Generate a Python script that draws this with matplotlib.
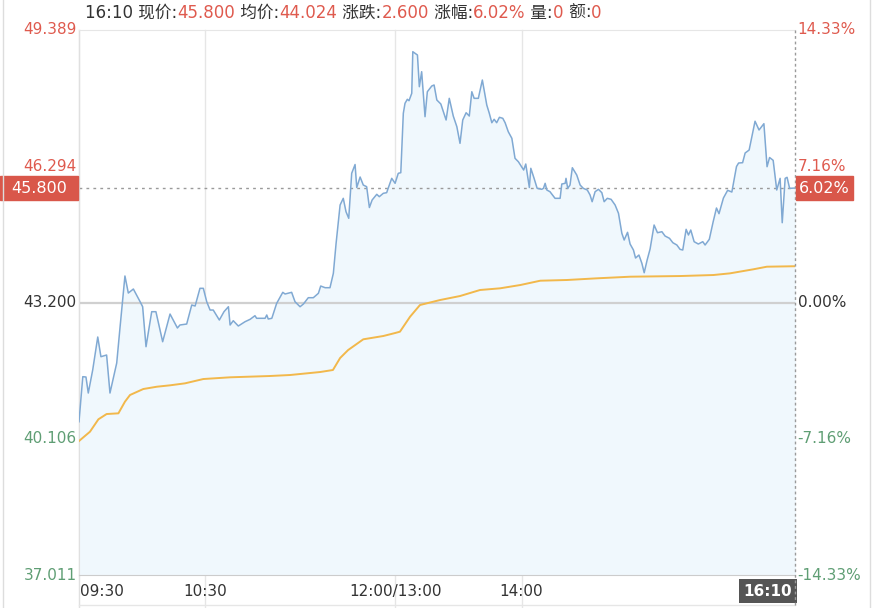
import matplotlib
matplotlib.use('Agg')
import matplotlib.pyplot as plt
from matplotlib.patches import Rectangle

# fonts: latin first, CJK fallback for the header
plt.rcParams['font.family'] = ['DejaVu Sans', 'Noto Sans CJK SC']

# minutes since 09:30 (12:00 and 13:00 share minute 150)
price_min = [0, 1.8, 3.3, 4.4, 6.5, 8.9, 10.4, 13.1, 14.7, 17.9, 19.5, 21.8, 23.4, 25.8,
             29.0, 30.2, 31.8, 34.5, 36.5, 39.7, 43.2, 46.7, 47.9, 51.1, 53.5, 55.1, 57.4,
             59.0, 60.6, 62.2, 63.7, 66.6, 68.8, 70.9, 71.7, 73.2, 75.6, 78.8, 81.2, 83.5,
             84.3, 88.3, 89.1, 89.8, 91.5, 93.8, 96.7, 97.8, 100.9, 102.5, 104.9, 106.5,
             108.8, 111.2, 113.6, 114.7, 116.8, 119.1, 120.7, 122.0, 123.9, 125.4, 126.7,
             128.0, 129.4, 131.0, 131.8, 133.4, 134.9, 136.5, 137.8, 139.1, 141.3, 142.5,
             144.4, 146.0, 146.8, 148.4, 150.0, 151.5, 152.7, 153.9, 154.7, 155.8, 156.6,
             157.9, 158.4, 160.6, 161.5, 162.6, 164.2, 165.3, 167.4, 168.5, 169.8, 171.7,
             174.2, 175.7, 177.6, 179.3, 180.8, 182.1, 183.7, 185.2, 186.4, 187.5, 189.5,
             191.4, 193.5, 194.7, 195.9, 197.0, 198.2, 199.5, 201.1, 202.2, 203.7, 205.4,
             206.9, 208.5, 211.0, 212.0, 213.7, 214.4, 215.9, 217.4, 219.6, 220.4, 221.2,
             222.0, 223.5, 225.9, 228.3, 229.1, 230.7, 231.1, 231.9, 233.0, 234.1, 236.2,
             237.8, 239.3, 241.2, 242.5, 243.5, 244.9, 246.5, 248.1, 249.2, 250.7, 252.5,
             254.4, 256.0, 257.6, 258.7, 260.3, 261.5, 263.1, 264.1, 265.7, 267.1, 268.2,
             269.6, 271.0, 272.9, 274.5, 276.6, 278.1, 280.2, 281.8, 283.7, 285.2, 286.5,
             288.1, 289.2, 290.3, 291.9, 293.9, 296.0, 297.1, 299.1, 300.9, 302.5, 303.7,
             305.8, 307.8, 309.8, 312.0, 313.0, 314.9, 316.1, 318.0, 320.8, 322.7, 325.0,
             326.5, 327.7, 329.4, 331.1, 332.7, 333.7, 335.1, 336.0, 337.2, 340]
price = [40.492, 41.515, 41.508, 41.144, 41.667, 42.416, 41.969, 42.007, 41.144, 41.826,
         42.650, 43.802, 43.415, 43.506, 43.218, 43.104, 42.196, 42.991, 42.991, 42.309,
         42.938, 42.621, 42.689, 42.711, 43.143, 43.120, 43.522, 43.522, 43.218, 43.029,
         43.029, 42.802, 42.991, 43.104, 42.689, 42.786, 42.666, 42.764, 42.818, 42.900,
         42.841, 42.841, 42.916, 42.825, 42.841, 43.181, 43.431, 43.393, 43.431, 43.218,
         43.104, 43.166, 43.309, 43.309, 43.409, 43.574, 43.536, 43.536, 43.863, 44.544,
         45.414, 45.566, 45.262, 45.112, 46.134, 46.334, 45.812, 46.050, 45.868, 45.830,
         45.357, 45.528, 45.657, 45.603, 45.680, 45.694, 45.807, 46.020, 45.907, 46.134,
         46.148, 47.497, 47.724, 47.815, 47.783, 47.951, 48.896, 48.821, 48.101, 48.442,
         47.420, 47.987, 48.117, 48.140, 47.799, 47.708, 47.345, 47.837, 47.435, 47.193,
         46.815, 47.345, 47.510, 47.435, 47.987, 47.837, 47.837, 48.253, 47.685, 47.497,
         47.283, 47.361, 47.283, 47.406, 47.383, 47.283, 47.079, 46.929, 46.475, 46.397,
         46.209, 46.345, 45.812, 46.248, 46.027, 45.793, 45.771, 45.793, 45.907, 45.755,
         45.716, 45.566, 45.566, 45.891, 45.907, 46.020, 45.793, 45.868, 46.261, 46.095,
         45.868, 45.793, 45.755, 45.643, 45.489, 45.716, 45.771, 45.694, 45.489, 45.566,
         45.543, 45.414, 45.226, 44.771, 44.619, 44.794, 44.529, 44.392, 44.210, 44.278,
         44.090, 43.876, 44.165, 44.415, 44.960, 44.785, 44.808, 44.710, 44.658, 44.558,
         44.506, 44.408, 44.392, 44.862, 44.733, 44.846, 44.581, 44.528, 44.581, 44.506,
         44.635, 45.028, 45.346, 45.217, 45.573, 45.748, 45.709, 46.288, 46.368, 46.375,
         46.595, 46.663, 47.317, 47.118, 47.261, 46.284, 46.493, 46.429, 45.755, 46.020,
         45.012, 46.020, 46.043, 45.793, 45.800]

avg_min = [0, 2.8, 5.2, 9.2, 13.1, 18.7, 21.8, 24.2, 30.5, 36.9, 43.2, 50.3, 59.0, 71.7,
           90.3, 100.1, 114.4, 120.5, 123.9, 127.7, 134.9, 144.4, 150.0, 152.3, 157.1,
           161.8, 171.3, 180.8, 190.3, 199.8, 209.4, 218.9, 231.5, 245.7, 261.6, 285.2,
           301.0, 308.9, 320.0, 326.4, 340]
avg = [40.054, 40.168, 40.265, 40.547, 40.667, 40.683, 40.947, 41.099, 41.235, 41.287,
       41.319, 41.364, 41.462, 41.501, 41.530, 41.553, 41.621, 41.667, 41.939, 42.120,
       42.364, 42.439, 42.507, 42.537, 42.877, 43.143, 43.256, 43.347, 43.484, 43.522,
       43.597, 43.695, 43.711, 43.749, 43.786, 43.801, 43.824, 43.862, 43.954, 44.013,
       44.024]

pre_close = 43.200
last = 45.800
y_ticks = [49.389, 46.294, 43.200, 40.106, 37.011]
pct_labels = ['14.33%', '7.16%', '0.00%', '-7.16%', '-14.33%']
x_ticks = [60, 150, 210]
x_labels = ['10:30', '12:00/13:00', '14:00']

RED = '#df5a4e'
GREEN = '#5f9e74'
DARK = '#333333'
tick_colors = [RED, RED, DARK, GREEN, GREEN]

W, H = 879, 608
fig = plt.figure(figsize=(W / 100, H / 100), dpi=100)
ax = fig.add_axes([79 / W, 1 - 575 / H, (795.5 - 79) / W, 545 / H])
ax.set_xlim(0, 340)
ax.set_ylim(37.011, 49.389)
ax.set_xticks([])
ax.set_yticks([])

ax.spines['right'].set_visible(False)
ax.spines['top'].set_color('#e6e6e6')
ax.spines['left'].set_color('#e0e0e0')
ax.spines['bottom'].set_color('#cccccc')

# grid
for t in x_ticks:
    ax.plot([t, t], [-0.06, 1], color='#e6e6e6', lw=1, transform=ax.get_xaxis_transform(),
            clip_on=False, zorder=0)
ax.plot([0, 0], [-0.06, 1], color='#e0e0e0', lw=1, transform=ax.get_xaxis_transform(),
        clip_on=False, zorder=0)
ax.plot([0, 1], [-0.055, -0.055], color='#e6e6e6', lw=1, transform=ax.transAxes,
        clip_on=False)
ax.axhline(pre_close, color='#d0d0d0', lw=1.6, zorder=1)

# series
ax.fill_between(price_min, price, 37.011, color='#f0f8fd', lw=0, zorder=0.5)
ax.plot(price_min, price, color='#80a9d3', lw=1.1, zorder=3)
ax.plot(avg_min, avg, color='#f2b84b', lw=1.4, zorder=3)

# current price line and right edge
ax.axhline(last, color='#9a9a9a', lw=1, ls=(0, (2, 3)), zorder=2)
ax.plot([340, 340], [-0.055, 1], color='#9a9a9a', lw=1, ls=(0, (2, 2)),
        transform=ax.get_xaxis_transform(), clip_on=False, zorder=4)

# price and percent labels
for v, lab, c in zip(y_ticks, pct_labels, tick_colors):
    ax.text(-0.003, v, f'{v:.3f}', ha='right', va='center', color=c, fontsize=11,
            transform=ax.get_yaxis_transform())
    ax.text(1.003, v, lab, ha='left', va='center', color=c, fontsize=11,
            transform=ax.get_yaxis_transform())

# current value boxes
box_h = 24 * (49.389 - 37.011) / 545
ax.add_patch(Rectangle((-79 / 716.5, last - box_h / 2), 78 / 716.5, box_h, color='#d9574a',
                       transform=ax.get_yaxis_transform(), clip_on=False, zorder=5))
ax.text(-40 / 716.5, last, f'{last:.3f}', ha='center', va='center', color='white', fontsize=11.5,
        transform=ax.get_yaxis_transform(), zorder=6)
ax.add_patch(Rectangle((1.0008, last - box_h / 2), 57 / 716.5, box_h, color='#d9574a',
                       transform=ax.get_yaxis_transform(), clip_on=False, zorder=5))
ax.text(1.0008 + 28.5 / 716.5, last, '6.02%', ha='center', va='center', color='white',
        fontsize=11.5, transform=ax.get_yaxis_transform(), zorder=6)

# time labels
ax.text(0.002, -0.03, '09:30', ha='left', va='center', fontsize=11, color=DARK,
        transform=ax.transAxes)
for t, lab in zip(x_ticks, x_labels):
    ax.text(t, -0.03, lab, ha='center', va='center', fontsize=11, color=DARK,
            transform=ax.get_xaxis_transform())
ax.text(338.5, -0.03, '16:10', ha='right', va='center', fontsize=11, color='white',
        fontweight='bold', transform=ax.get_xaxis_transform(),
        bbox=dict(boxstyle='square,pad=0.3', fc='#555555', ec='none'))

# outer frame
fig.add_artist(plt.Line2D([3 / W, 3 / W], [0, 1], color='#dddddd', lw=1))
fig.add_artist(plt.Line2D([870 / W, 870 / W], [0, 1], color='#dddddd', lw=1))

# header line
parts = [('16:10 现价:', DARK), ('45.800', RED), (' 均价:', DARK), ('44.024', RED),
         (' 涨跌:', DARK), ('2.600', RED), (' 涨幅:', DARK), ('6.02%', RED),
         (' 量:', DARK), ('0', RED), (' 额:', DARK), ('0', RED)]
renderer = fig.canvas.get_renderer()
x = 85
for s, c in parts:
    t = fig.text(x / W, 1 - 13 / H, s, color=c, fontsize=12, ha='left', va='center')
    x += t.get_window_extent(renderer).width

fig.savefig('out.png', dpi=100)
